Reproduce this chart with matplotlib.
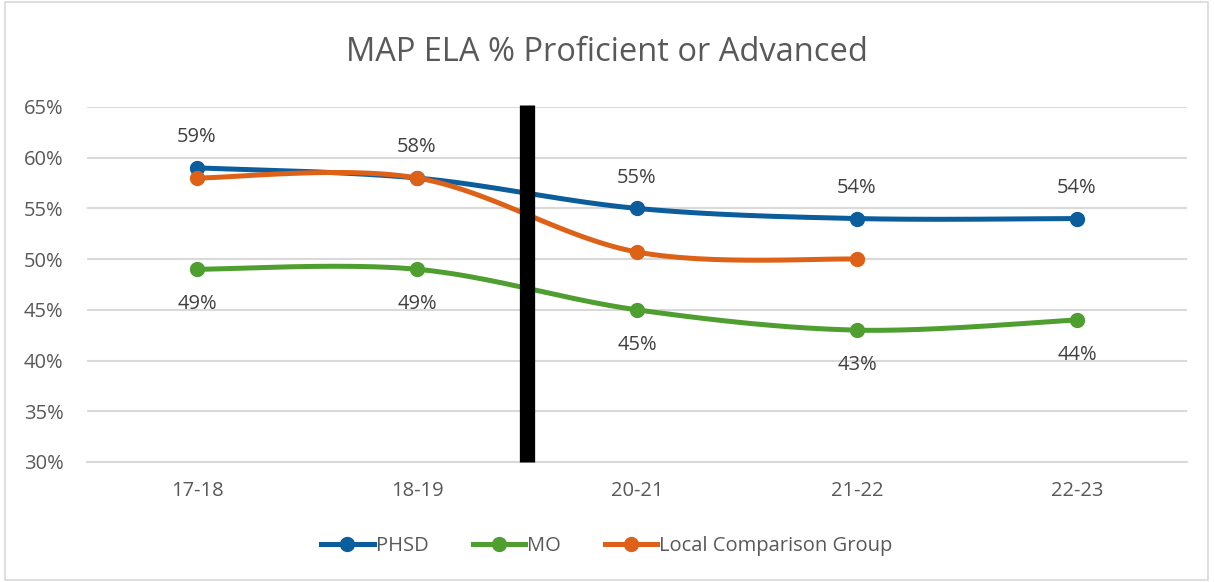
import numpy as np
import matplotlib.pyplot as plt
from matplotlib.patches import Rectangle

# Data
years = ["17-18", "18-19", "20-21", "21-22", "22-23"]
phsd = [59, 58, 55, 54, 54]
mo = [49, 49, 45, 43, 44]
local = [58, 58, 50.7, 50]

blue = "#0B5D9C"
green = "#4E9F2F"
orange = "#DE6118"
text_col = "#595959"

plt.rcParams['font.family'] = ['Open Sans', 'DejaVu Sans']


def smooth(ys):
    # Excel-style bezier smoothing through the points
    x = np.arange(len(ys), dtype=float)
    y = np.array(ys, dtype=float)
    px = np.concatenate([[x[0]], x, [x[-1]]])
    py = np.concatenate([[y[0]], y, [y[-1]]])
    t = np.linspace(0, 1, 40)[:, None]
    out_x, out_y = [], []
    for i in range(len(x) - 1):
        p0 = np.array([px[i + 1], py[i + 1]])
        p3 = np.array([px[i + 2], py[i + 2]])
        c1 = p0 + (np.array([px[i + 2], py[i + 2]]) - np.array([px[i], py[i]])) / 6
        c2 = p3 - (np.array([px[i + 3], py[i + 3]]) - np.array([px[i + 1], py[i + 1]])) / 6
        b = (1 - t) ** 3 * p0 + 3 * (1 - t) ** 2 * t * c1 + 3 * (1 - t) * t ** 2 * c2 + t ** 3 * p3
        out_x.append(b[:, 0])
        out_y.append(b[:, 1])
    return np.concatenate(out_x), np.concatenate(out_y)


fig = plt.figure(figsize=(12.14, 5.82), dpi=100)
ax = fig.add_axes([0.0717, 0.2062, 0.9061, 0.61])

fig.patches.append(Rectangle((0.004, 0.004), 0.991, 0.992, transform=fig.transFigure,
                             fill=False, edgecolor="#d9d9d9", linewidth=1.2))

series = [("PHSD", phsd, blue), ("MO", mo, green), ("Local Comparison Group", local, orange)]
for name, vals, col in series:
    sx, sy = smooth(vals)
    ax.plot(sx, sy, color=col, linewidth=3.6, solid_capstyle="round", zorder=3)
    ax.plot(range(len(vals)), vals, "o", color=col, markersize=10, zorder=4)
    ax.plot([], [], color=col, linewidth=3.6, marker="o", markersize=10, label=name)

for i, v in enumerate(phsd):
    ax.annotate(f"{v}%", (i, v), xytext=(0, 22), textcoords="offset points",
                ha="center", va="center", fontsize=14.5, color="#404040")
for i, v in enumerate(mo):
    ax.annotate(f"{v}%", (i, v), xytext=(0, -25), textcoords="offset points",
                ha="center", va="center", fontsize=14.5, color="#404040")

# divider between 18-19 and 20-21
ax.plot([1.5, 1.5], [30, 65.2], color="black", linewidth=11, solid_capstyle="butt",
        zorder=5, clip_on=False)

ax.set_xlim(-0.5, 4.5)
ax.set_ylim(30, 65)
ax.set_yticks(range(30, 66, 5))
ax.set_yticklabels([f"{v}%" for v in range(30, 66, 5)])
ax.set_xticks(range(len(years)))
ax.set_xticklabels(years)
ax.tick_params(length=0, labelsize=14.5, colors=text_col)
ax.tick_params(axis="y", pad=17)
ax.tick_params(axis="x", pad=14)
ax.grid(axis="y", color="#d9d9d9", linewidth=1.5)
ax.set_axisbelow(True)
for s in ["top", "right", "left"]:
    ax.spines[s].set_visible(False)
ax.spines["bottom"].set_color("#d9d9d9")
ax.spines["bottom"].set_linewidth(1.5)

fig.text(0.5, 0.91, "MAP ELA % Proficient or Advanced", ha="center", va="center",
         fontsize=23.5, color=text_col)

fig.legend(loc="center", bbox_to_anchor=(0.5, 0.062), ncol=3, frameon=False,
           fontsize=14.5, labelcolor=text_col, handlelength=2.6, handletextpad=0.1,
           columnspacing=2.2)

fig.savefig("out.png", dpi=100)
